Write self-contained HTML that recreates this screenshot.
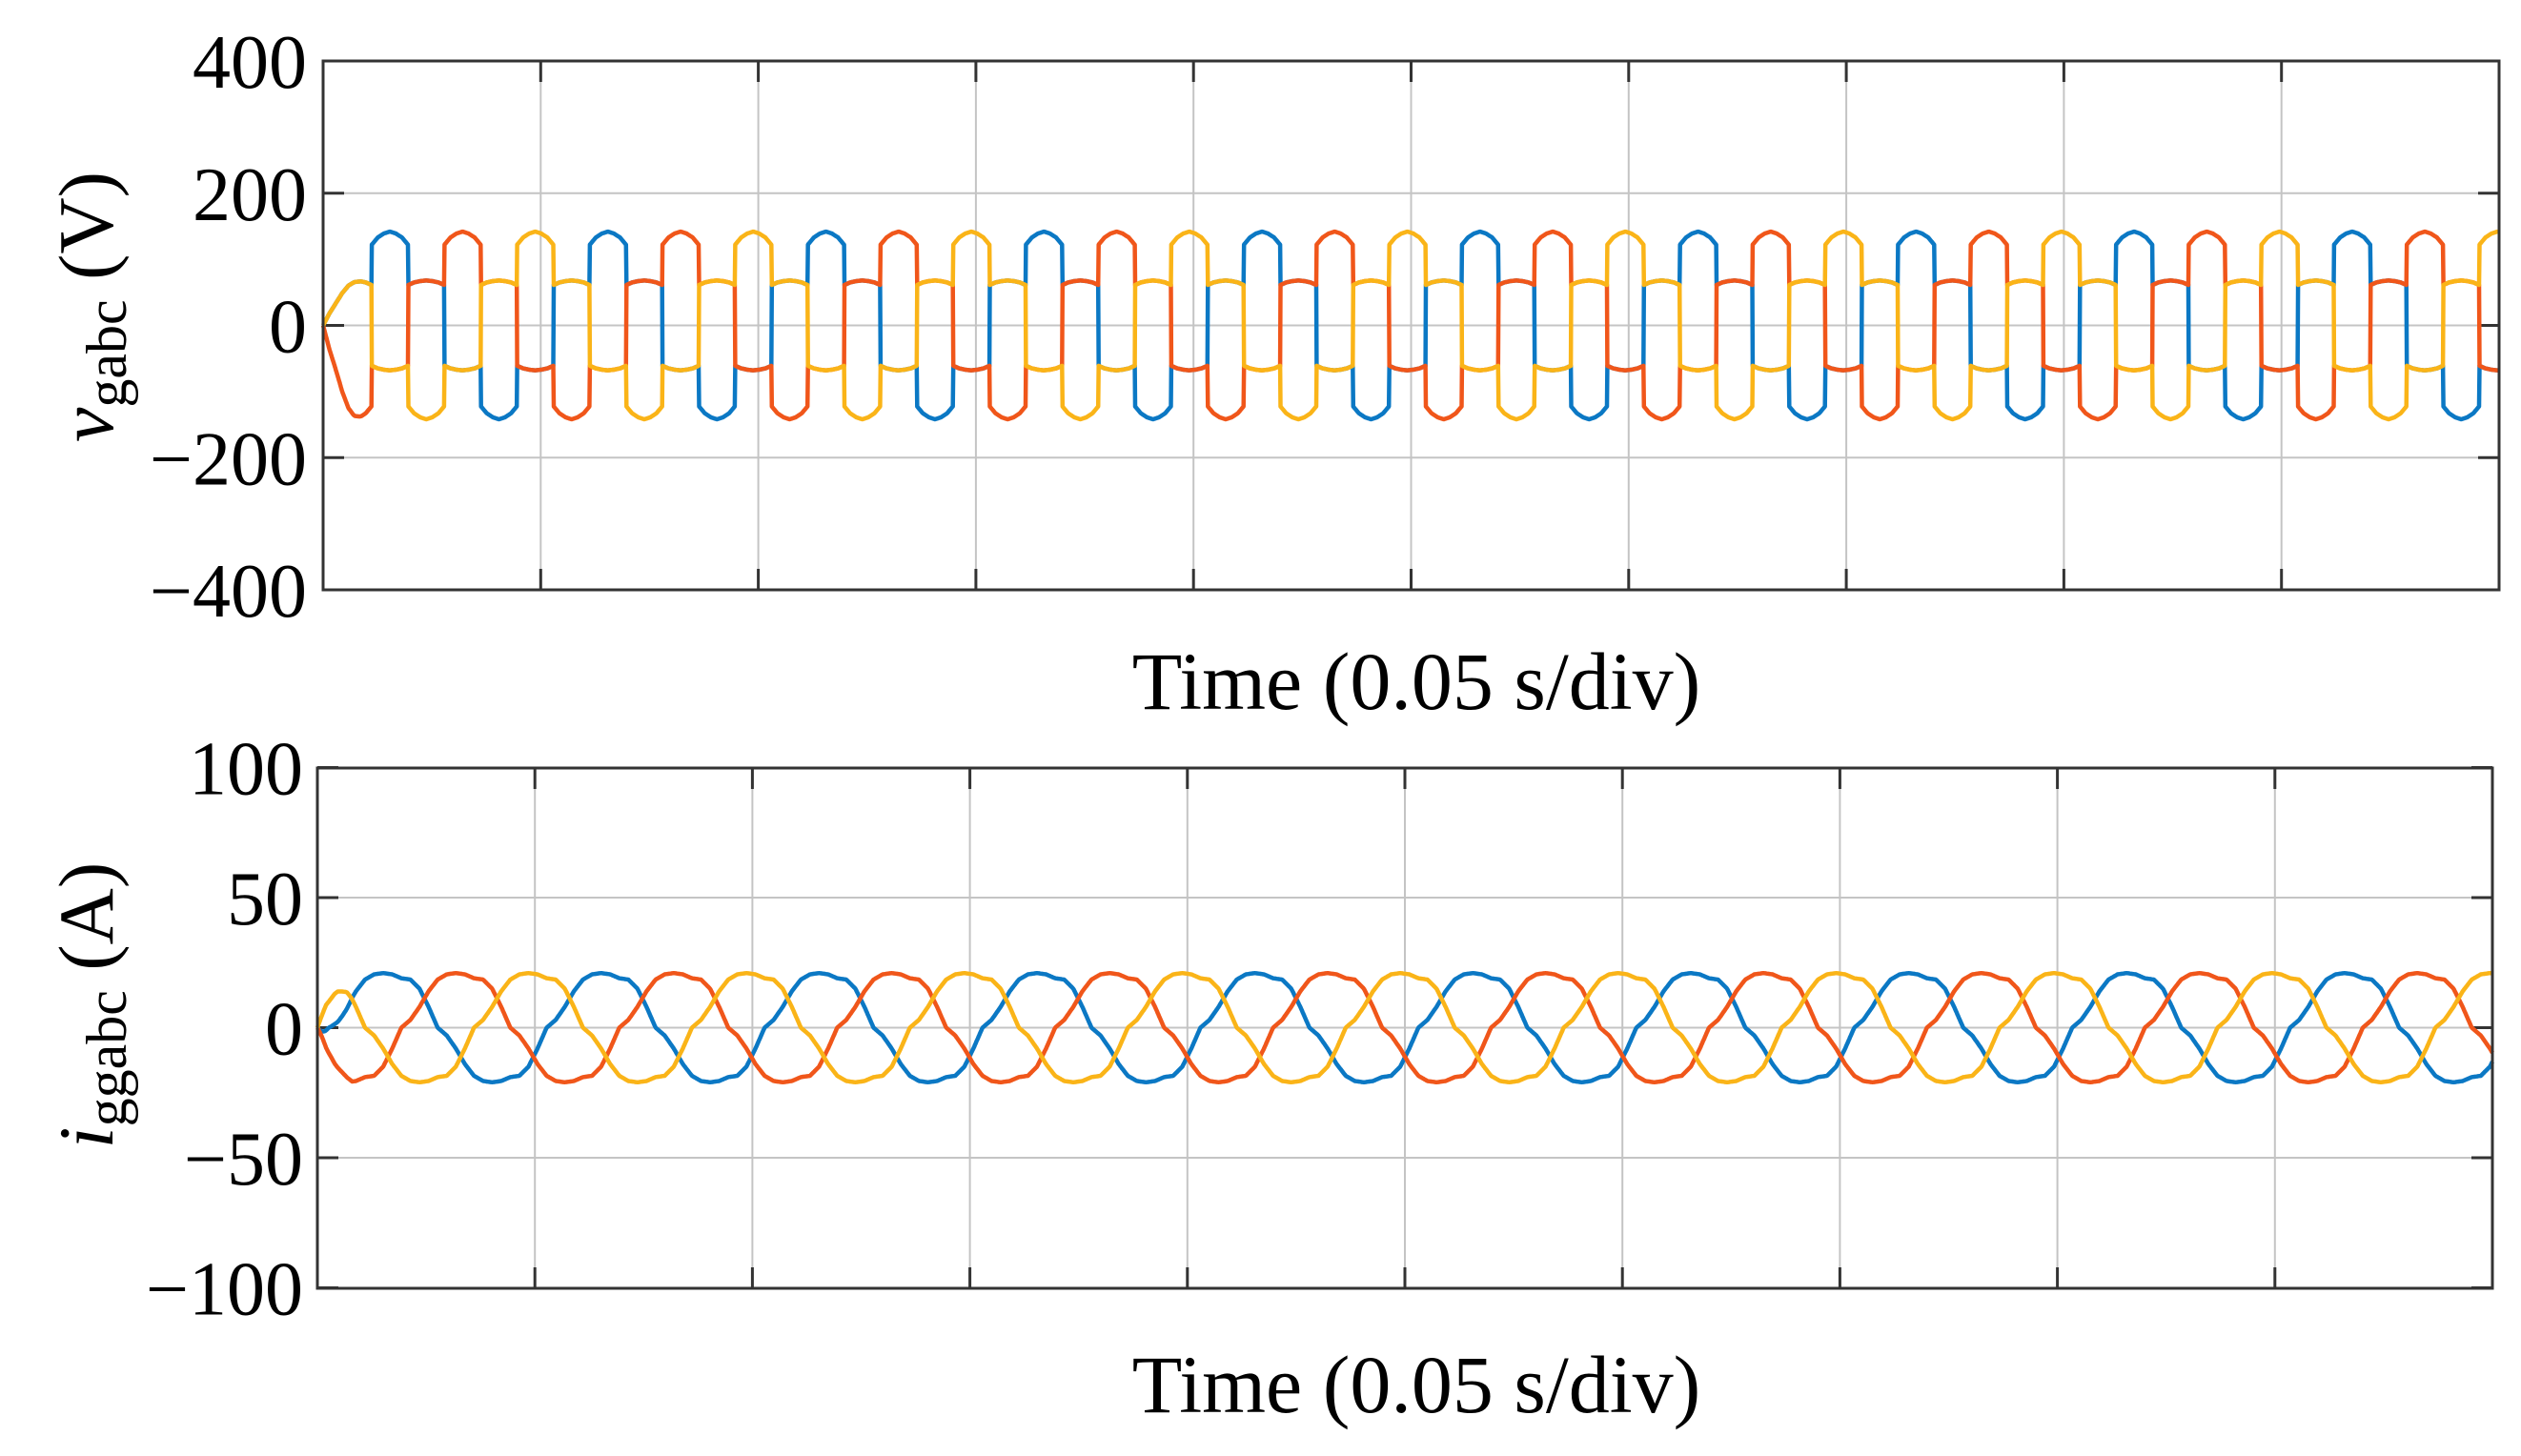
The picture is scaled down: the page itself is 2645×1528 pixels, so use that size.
<!DOCTYPE html>
<html>
<head>
<meta charset="utf-8">
<style>
  html, body { margin: 0; padding: 0; background: #ffffff; }
  svg { display: block; }
  text { font-family: "Liberation Serif", "DejaVu Serif", serif; fill: #000; }
</style>
</head>
<body>
<svg id="fig" width="2645" height="1528" viewBox="0 0 2645 1528" xmlns="http://www.w3.org/2000/svg">
  <rect x="0" y="0" width="2645" height="1528" fill="#ffffff"/>
  <g id="top-plot"></g>
  <g id="bottom-plot"></g>

  <text x="118" y="322" font-size="82" text-anchor="middle" transform="rotate(-90 118 322)"><tspan font-style="italic">v</tspan><tspan font-size="60" dy="14">gabc</tspan><tspan dy="-14"> (V)</tspan></text>
  <text x="118" y="1055" font-size="82" text-anchor="middle" transform="rotate(-90 118 1055)"><tspan font-style="italic">i</tspan><tspan font-size="60" dy="14">ggabc</tspan><tspan dy="-14"> (A)</tspan></text>

  <text x="1486" y="744" font-size="86" text-anchor="middle">Time (0.05 s/div)</text>
  <text x="1486" y="1482" font-size="86" text-anchor="middle">Time (0.05 s/div)</text>
</svg>

<script>
// ---------- data ----------
const vTicks = [400, 200, 0, -200, -400];
const vTickLabels = ["400", "200", "0", "\u2212200", "\u2212400"];
const iTicks = [100, 50, 0, -50, -100];
const iTickLabels = ["100", "50", "0", "\u221250", "\u2212100"];
const timeGrid = [0, 0.05, 0.1, 0.15, 0.2, 0.25, 0.3, 0.35, 0.4, 0.45, 0.5];

// six-step voltage: per-segment level codes (2 = high, 1 = mid) for each phase
const vSeqA = [2, 1, -1, -2, -1, 1];
const vSeqB = [-1, 1, 2, 1, -1, -2];
const vSeqC = [-1, -2, -1, 1, 2, 1];
// dome shapes across a segment (V)
const vHighDome = [122, 133, 139, 142, 139, 133, 122];
const vMidDome = [61, 65, 67, 68, 67, 65, 61];
const vStartTime = [0.01117];      // start of first blue high segment (s)
const vPeriod = [0.0501];          // fundamental period (s)
const vRamp = [0, 0.3, 0.55, 0.75, 0.9, 0.97, 1]; // start-up ramp
const vRampTime = [0.0088];

// current template of one period for phase a, 15° steps (A)
const iTemplate = [0, 3, 8, 14, 18.5, 20.5, 21, 20.5, 19, 18.5, 15, 8,
                   0, -3, -8, -14, -18.5, -20.5, -21, -20.5, -19, -18.5, -15, -8];
const iZeroTime = [0.0026];
const iPeriod = [0.0501];
const iRamp = [0, 0.45, 0.7, 0.85, 1];
const iRampTime = [0.008];

// ---------- helpers ----------
const NS = "http://www.w3.org/2000/svg";
function mk(tag, attrs, parent) {
  const e = document.createElementNS(NS, tag);
  for (const k in attrs) e.setAttribute(k, attrs[k]);
  parent.appendChild(e);
  return e;
}
function interp(arr, f) {
  f = Math.max(0, Math.min(1, f));
  const p = f * (arr.length - 1);
  const i = Math.min(Math.floor(p), arr.length - 2);
  const r = p - i;
  return arr[i] * (1 - r) + arr[i + 1] * r;
}

function buildAxes(g, box, ticks, labels, yScale, labelX, prefix) {
  const { x0, x1, y0, y1 } = box;
  const xScale = t => x0 + (t / 0.5) * (x1 - x0);
  ticks.forEach((v, i) => {
    const y = yScale(v);
    const l = mk("line", { x1: x0, x2: x1, y1: y, y2: y, stroke: "#c4c4c4", "stroke-width": 2 }, g);
    
    
    const tk = mk("line", { x1: x0, x2: x0 + 22, y1: y, y2: y, stroke: "#333", "stroke-width": 3 }, g);
    
    
    const tk2 = mk("line", { x1: x1 - 22, x2: x1, y1: y, y2: y, stroke: "#333", "stroke-width": 3 }, g);
    
    
    const t = mk("text", { x: labelX, y: y + 28, "font-size": 80, "text-anchor": "end" }, g);
    t.textContent = labels[i];
    
    
  });
  timeGrid.forEach(tt => {
    const x = xScale(tt);
    const l = mk("line", { x1: x, x2: x, y1: y0, y2: y1, stroke: "#c4c4c4", "stroke-width": 2 }, g);
    
    
    const a = mk("line", { x1: x, x2: x, y1: y0, y2: y0 + 22, stroke: "#333", "stroke-width": 3 }, g);
    
    
    const b = mk("line", { x1: x, x2: x, y1: y1 - 22, y2: y1, stroke: "#333", "stroke-width": 3 }, g);
    
    
  });
  return xScale;
}

function drawFrame(g, box, prefix) {
  const r = mk("rect", { x: box.x0, y: box.y0, width: box.x1 - box.x0, height: box.y1 - box.y0, fill: "none", stroke: "#333", "stroke-width": 3 }, g);
  
  
}

const colors = ["#0b78c4", "#f0561a", "#fab418"];

// ---------- voltage plot ----------
(function () {
  const g = document.getElementById("top-plot");
  const box = { x0: 339, x1: 2622, y0: 64, y1: 619 };
  const yScale = v => 341.5 - v * (box.y1 - box.y0) / 800;
  const xScale = buildAxes(g, box, vTicks, vTickLabels, yScale, 322, "voltage");
  const seg = vPeriod[0] / 6;
  function vVal(seq, t) {
    let k = Math.floor((t - vStartTime[0]) / seg);
    let f = (t - vStartTime[0]) / seg - k;
    if (k < -1) { k = -1; f = 0; }
    const lvl = seq[((k % 6) + 6) % 6];
    const mag = Math.abs(lvl) === 2 ? interp(vHighDome, f) : interp(vMidDome, f);
    let v = Math.sign(lvl) * mag;
    if (t < vRampTime[0]) v *= interp(vRamp, t / vRampTime[0]);
    return v;
  }
  const seqs = [vSeqA, vSeqB, vSeqC];
  const names = ["voltage-phase-a-line", "voltage-phase-b-line", "voltage-phase-c-line"];
  seqs.forEach((seq, j) => {
    let d = "";
    const N = 5000;
    for (let i = 0; i <= N; i++) {
      const t = 0.5 * i / N;
      d += (i ? "L" : "M") + xScale(t).toFixed(1) + "," + yScale(vVal(seq, t)).toFixed(1);
    }
    const p = mk("path", { d: d, fill: "none", stroke: colors[j], "stroke-width": 4.5, "stroke-linejoin": "round" }, g);
    
    
  });
  drawFrame(g, box, "voltage");
})();

// ---------- current plot ----------
(function () {
  const g = document.getElementById("bottom-plot");
  const box = { x0: 333, x1: 2615, y0: 806, y1: 1352 };
  const yScale = v => 1078.5 - v * (box.y1 - box.y0) / 200;
  const xScale = buildAxes(g, box, iTicks, iTickLabels, yScale, 318, "current");
  function iVal(shift, t) {
    let ph = (t - iZeroTime[0]) / iPeriod[0] - shift;
    ph = ph - Math.floor(ph);
    const n = iTemplate.length;
    const p = ph * n;
    const i = Math.floor(p) % n;
    const r = p - Math.floor(p);
    let v = iTemplate[i] * (1 - r) + iTemplate[(i + 1) % n] * r;
    if (t < iRampTime[0]) v *= interp(iRamp, t / iRampTime[0]);
    return v;
  }
  const shifts = [0, 1 / 3, 2 / 3];
  const names = ["current-phase-a-line", "current-phase-b-line", "current-phase-c-line"];
  shifts.forEach((s, j) => {
    let d = "";
    const N = 3000;
    for (let i = 0; i <= N; i++) {
      const t = 0.5 * i / N;
      d += (i ? "L" : "M") + xScale(t).toFixed(1) + "," + yScale(iVal(s, t)).toFixed(1);
    }
    const p = mk("path", { d: d, fill: "none", stroke: colors[j], "stroke-width": 4.5, "stroke-linejoin": "round" }, g);
    
    
  });
  drawFrame(g, box, "current");
})();
</script>
</body>
</html>
